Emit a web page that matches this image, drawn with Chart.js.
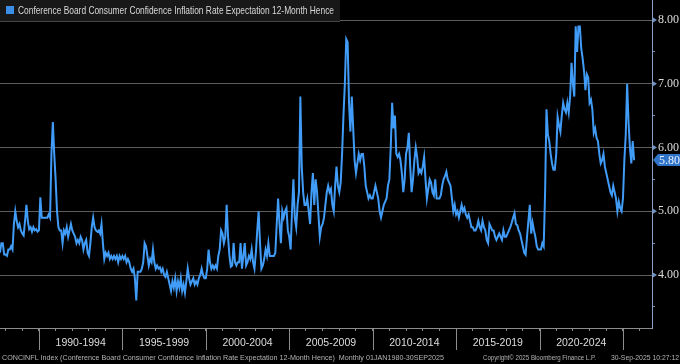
<!DOCTYPE html>
<html>
<head>
<meta charset="utf-8">
<script src="https://cdn.jsdelivr.net/npm/chart.js@4.4.1/dist/chart.umd.min.js"></script>
<style>
html, body { margin: 0; padding: 0; background: #000; }
#wrap { position: relative; width: 680px; height: 364px; }
</style>
</head>
<body>
<div id="wrap"><canvas id="chart"></canvas></div>
<script>
// series + labels
const seriesName = 'Conference Board Consumer Confidence Inflation Rate Expectation 12-Month Hence';
const firstYear = 1987;
const firstMonth = 9; // Sep 1987, monthly to Sep 2025
const values = [
    4.35, 4.5, 4.5, 4.32,
    4.32, 4.3, 4.4, 4.4, 4.45, 4.4, 4.8, 5.0, 4.85, 4.75, 4.8, 4.7,        // 1988
    4.65, 4.62, 4.85, 5.1, 4.85, 4.72, 4.75, 4.68, 4.75, 4.7, 4.72, 4.68,  // 1989
    4.7, 5.22, 4.9, 4.9, 4.9, 4.9, 4.9, 4.95, 4.9, 5.9, 6.4, 5.9,          // 1990
    5.5, 5.0, 4.75, 4.7, 4.7, 4.5, 4.7, 4.65, 4.75, 4.6, 4.7, 4.8,         // 1991
    4.7, 4.65, 4.6, 4.5, 4.55, 4.5, 4.6, 4.55, 4.4, 4.5, 4.55, 4.35,       // 1992
    4.3, 4.5, 4.75, 4.9, 4.75, 4.7, 4.68, 4.7, 4.65, 4.8, 4.5, 4.25,       // 1993
    4.35, 4.3, 4.35, 4.25, 4.3, 4.25, 4.3, 4.25, 4.3, 4.2, 4.3, 4.25,      // 1994
    4.3, 4.25, 4.3, 4.2, 4.25, 4.2, 4.1, 4.05, 4.1, 3.95, 3.6, 4.05,       // 1995
    4.05, 4.05, 4.1, 4.2, 4.5, 4.45, 4.3, 4.15, 4.25, 4.2, 4.4, 4.2,       // 1996
    4.1, 4.15, 4.1, 4.12, 4.05, 4.1, 4.0, 3.97, 4.05, 3.95, 3.85, 3.75,    // 1997
    3.9, 3.8, 3.95, 3.75, 3.9, 3.8, 3.95, 3.75, 3.85, 3.72, 3.9, 4.1,      // 1998
    3.95, 3.85, 3.9, 3.95, 3.85, 3.9, 3.85, 3.95, 4.0, 4.1, 4.0, 3.95,     // 1999
    3.95, 4.1, 4.4, 4.2, 4.1, 4.15, 4.1, 4.15, 4.1, 4.3, 4.4, 4.7,         // 2000
    4.65, 4.5, 4.6, 5.1, 4.6, 4.3, 4.13, 4.15, 4.5, 4.2, 4.15, 4.2,        // 2001
    4.2, 4.5, 4.1, 4.3, 4.5, 4.15, 4.2, 4.3, 4.25, 4.4, 4.2, 4.1,          // 2002
    4.35, 4.7, 5.0, 4.5, 4.1, 4.15, 4.25, 4.4, 4.3, 4.5, 4.3, 4.3,         // 2003
    4.3, 4.3, 4.35, 4.8, 5.2, 4.8, 4.5, 5.0, 4.9, 5.0, 5.05, 4.7,          // 2004
    4.6, 4.4, 5.0, 5.5, 4.9, 4.75, 5.1, 5.3, 6.8, 5.7, 5.3, 5.1,           // 2005
    5.1, 5.2, 5.0, 4.8, 5.3, 5.6, 5.1, 5.5, 5.3, 4.95, 4.6, 4.75,          // 2006
    4.8, 4.9, 5.1, 5.3, 5.4, 5.3, 5.35, 5.1, 5.0, 5.4, 5.7, 5.4,           // 2007
    5.3, 5.45, 5.9, 6.5, 7.0, 7.7, 7.65, 6.7, 6.25, 6.8, 6.3, 5.8,         // 2008
    5.6, 5.75, 5.9, 5.8, 5.9, 5.9, 5.7, 5.4, 5.3, 5.2, 5.25, 5.2,          // 2009
    5.2, 5.3, 5.4, 5.3, 5.2, 5.0, 4.9, 5.0, 5.1, 5.15, 5.2, 5.4,           // 2010
    5.5, 6.0, 6.7, 6.3, 6.5, 5.9, 5.85, 5.9, 5.8, 5.6, 5.3, 5.5,           // 2011
    5.9, 6.0, 6.23, 5.7, 5.3, 5.5, 5.8, 6.0, 5.85, 5.6, 5.65, 5.6,         // 2012
    5.7, 5.85, 5.5, 5.2, 5.35, 5.5, 5.45, 5.3, 5.25, 5.5, 5.2, 5.2,        // 2013
    5.2, 5.25, 5.4, 5.5, 5.55, 5.62, 5.5, 5.45, 5.4, 5.2, 5.0, 5.1,        // 2014
    4.95, 5.0, 4.9, 5.0, 5.1, 5.0, 5.05, 4.95, 4.9, 4.95, 4.85, 4.75,      // 2015
    4.75, 4.7, 4.7, 4.75, 4.85, 4.75, 4.7, 4.85, 4.75, 4.7, 4.55, 4.5,     // 2016
    4.8, 4.75, 4.7, 4.7, 4.6, 4.55, 4.6, 4.65, 4.6, 4.55, 4.7, 4.6,        // 2017
    4.6, 4.65, 4.7, 4.75, 4.82, 4.9, 4.97, 4.8, 4.78, 4.7, 4.65, 4.55,     // 2018
    4.45, 4.35, 4.32, 4.6, 4.85, 5.1, 4.65, 4.82, 4.7, 4.6, 4.45, 4.4,     // 2019
    4.4, 4.4, 4.5, 4.45, 5.3, 6.6, 6.2, 6.1, 5.9, 5.75, 5.65, 5.65,        // 2020
    5.9, 6.48, 6.35, 6.25, 6.5, 6.7, 6.6, 6.55, 6.7, 6.55, 6.8, 7.33,      // 2021
    7.0, 6.8, 7.9, 7.5, 7.9, 7.9, 7.55, 7.4, 7.2, 6.9, 7.15, 7.1,          // 2022
    6.7, 6.75, 6.6, 6.23, 6.3, 6.15, 6.1, 5.9, 5.75, 5.8, 5.9, 5.7,        // 2023
    5.6, 5.5, 5.4, 5.3, 5.25, 5.4, 5.3, 5.2, 5.0, 5.15, 5.05, 5.0,         // 2024
    5.2, 5.8, 6.2, 7.0, 6.4, 6.0, 5.75, 6.1, 5.8                           // 2025
];
const periodStarts = [1990, 1995, 2000, 2005, 2010, 2015, 2020];
const periodLabels = ['1990-1994', '1995-1999', '2000-2004', '2005-2009', '2010-2014', '2015-2019', '2020-2024'];
const separatorYears = [1990, 1995, 2000, 2005, 2010, 2015, 2020, 2025];
const yTickValues = [3.5, 4, 4.5, 5, 5.5, 6, 6.5, 7, 7.5, 8];
const footerLeft = 'CONCINFL Index (Conference Board Consumer Confidence Inflation Rate Expectation 12-Month Hence)  Monthly 01JAN1980-30SEP2025';
const footerMid = 'Copyright\u00a9 2025 Bloomberg Finance L.P.';
const footerRight = '30-Sep-2025 10:27:12';

const lineColor = '#409cf7';

function fitText(ctx, text, x, y, width) {
    var w = ctx.measureText(text).width;
    ctx.save();
    ctx.translate(x, y);
    ctx.scale(Math.min(1, width / w), 1);
    ctx.fillText(text, 0, 0);
    ctx.restore();
}

const bloombergLook = {
    id: 'bloombergLook',
    beforeDraw(chart) {
        const ctx = chart.ctx;
        ctx.save();
        ctx.fillStyle = '#000';
        ctx.fillRect(0, 0, chart.width, chart.height);
        ctx.restore();
    },
    afterDraw(chart) {
        const ctx = chart.ctx;
        const xs = chart.scales.x, ys = chart.scales.y;
        const area = chart.chartArea;
        ctx.save();

        // 5-year separators
        ctx.strokeStyle = '#8c8c8c';
        ctx.lineWidth = 1;
        separatorYears.forEach(function (yr) {
            var px = Math.round(xs.getPixelForValue(yr)) + 0.5;
            ctx.beginPath();
            ctx.moveTo(px, area.bottom);
            ctx.lineTo(px, area.bottom + 22);
            ctx.stroke();
        });

        // arrows on the value axis
        ctx.fillStyle = '#6f92c6';
        ys.ticks.forEach(function (t) {
            if (!Number.isInteger(t.value)) return;
            var py = ys.getPixelForValue(t.value);
            ctx.beginPath();
            ctx.moveTo(area.right + 1, py - 2.5);
            ctx.lineTo(area.right + 5, py);
            ctx.lineTo(area.right + 1, py + 2.5);
            ctx.closePath();
            ctx.fill();
        });

        // last value tag
        var last = values[values.length - 1];
        var ty = Math.round(ys.getPixelForValue(last));
        ctx.fillStyle = '#2f74c8';
        ctx.beginPath();
        ctx.moveTo(area.right + 1, ty);
        ctx.lineTo(area.right + 6, ty - 6);
        ctx.lineTo(chart.width, ty - 6);
        ctx.lineTo(chart.width, ty + 6);
        ctx.lineTo(area.right + 6, ty + 6);
        ctx.closePath();
        ctx.fill();
        ctx.fillStyle = '#e6efff';
        ctx.font = '12px "Liberation Serif", serif';
        ctx.textBaseline = 'middle';
        ctx.fillText(last.toFixed(2), area.right + 7, ty + 1);

        // legend bar
        ctx.fillStyle = '#181818';
        ctx.fillRect(0, 0, 340, 21);
        ctx.fillStyle = '#444';
        ctx.fillRect(0, 21, 340, 1);
        ctx.fillStyle = '#3a8ee8';
        ctx.fillRect(6, 6, 8, 8);
        ctx.fillStyle = '#d8d8d8';
        ctx.font = '11px "Liberation Sans", Arial, sans-serif';
        ctx.textBaseline = 'alphabetic';
        fitText(ctx, seriesName, 18, 14, 316);

        // footer
        ctx.fillStyle = '#b4b4b4';
        ctx.font = '8px "Liberation Sans", Arial, sans-serif';
        fitText(ctx, footerLeft, 2, 360, 442);
        fitText(ctx, footerMid, 483, 360, 113);
        fitText(ctx, footerRight, 611, 360, 68);

        ctx.restore();
    }
};

const chart = new Chart(document.getElementById('chart'), {
    type: 'line',
    data: {
        datasets: [{
            label: seriesName,
            data: values.map(function (v, i) {
                return { x: firstYear + (firstMonth - 1 + i) / 12, y: v };
            }),
            borderColor: lineColor,
            borderWidth: 2,
            pointRadius: 0,
            tension: 0
        }]
    },
    options: {
        responsive: true,
        maintainAspectRatio: false,
        animation: false,
        layout: { padding: 0 },
        plugins: { legend: { display: false }, tooltip: { enabled: false } },
        scales: {
            x: {
                type: 'linear',
                min: firstYear + (firstMonth - 1) / 12,
                max: 2026.74,
                afterBuildTicks: function (scale) {
                    var t = [];
                    for (var yr = 1988; yr <= 2026; yr++) t.push({ value: yr });
                    periodStarts.forEach(function (p) { t.push({ value: p + 2.5 }); });
                    t.sort(function (a, b) { return a.value - b.value; });
                    scale.ticks = t;
                },
                afterFit: function (scale) {
                    scale.height = 36;
                    scale.paddingLeft = 0;
                    scale.paddingRight = 0;
                },
                ticks: {
                    autoSkip: false,
                    maxRotation: 0,
                    padding: 6,
                    color: '#dedede',
                    font: { family: '"Liberation Sans", Arial, sans-serif', size: 10.5 },
                    callback: function (value) {
                        var i = periodStarts.indexOf(value - 2.5);
                        return i >= 0 ? periodLabels[i] : '';
                    }
                },
                grid: {
                    drawOnChartArea: false,
                    tickLength: 3,
                    tickColor: function (c) {
                        return Number.isInteger(c.tick && c.tick.value) ? '#8c8c8c' : 'rgba(0,0,0,0)';
                    }
                },
                border: { display: true, color: '#8c8c8c', width: 1 }
            },
            y: {
                position: 'right',
                min: 3.169,
                max: 8.314,
                afterBuildTicks: function (scale) {
                    scale.ticks = yTickValues.map(function (v) { return { value: v }; });
                },
                afterFit: function (scale) {
                    scale.width = 28;
                    scale.paddingTop = 0;
                    scale.paddingBottom = 0;
                },
                ticks: {
                    padding: 3,
                    color: '#dcdcdc',
                    font: { family: '"Liberation Serif", serif', size: 12 },
                    callback: function (value) {
                        return Number.isInteger(value) ? value.toFixed(2) : '';
                    }
                },
                grid: {
                    color: function (c) {
                        return Number.isInteger(c.tick && c.tick.value) ? '#5e5e5e' : 'rgba(0,0,0,0)';
                    },
                    tickColor: '#7d93b3',
                    tickLength: 3
                },
                border: { display: true, color: '#8aa0c2', width: 1 }
            }
        }
    },
    plugins: [bloombergLook]
});
</script>
</body>
</html>
